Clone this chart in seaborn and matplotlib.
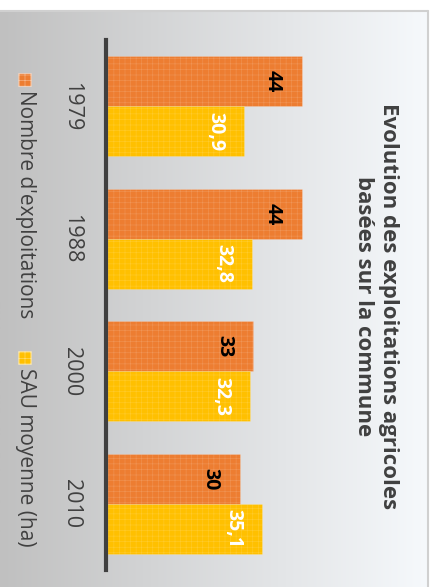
import numpy as np
import pandas as pd
import matplotlib
matplotlib.use("Agg")
import matplotlib.pyplot as plt
from matplotlib.patches import Rectangle
import seaborn as sns

# Data
annees = ["1979", "1988", "2000", "2010"]
nb_exploitations = [44, 44, 33, 30]
sau_moyenne = [30.9, 32.8, 32.3, 35.1]
series = ["Nombre d'exploitations", "SAU moyenne (ha)"]
titre = "Evolution des exploitations agricoles\nbasées sur la commune"

couleurs = {series[0]: "#ED7D31", series[1]: "#FFC000"}
couleurs_texte = {series[0]: "black", series[1]: "white"}

df = pd.DataFrame({
    "annee": annees * 2,
    "valeur": nb_exploitations + sau_moyenne,
    "serie": [series[0]] * len(annees) + [series[1]] * len(annees),
})

sns.set_theme(style="white")
plt.rcParams["font.family"] = ["Open Sans", "DejaVu Sans"]
plt.rcParams["hatch.linewidth"] = 0.4

W, H = 436, 587
fig = plt.figure(figsize=(W / 100, H / 100), dpi=100)
fig.patch.set_facecolor("white")

def fx(px):
    return px / W

def fy(py):
    return 1 - py / H

# Panel background: horizontal grey-to-white gradient
bg = fig.add_axes([0, 0, fx(428), fy(11)], zorder=0)
grad = np.linspace(0, 1, 256)
c0 = np.array([0xC0, 0xC0, 0xC0]) / 255
c1 = np.array([0xF6, 0xF9, 0xFC]) / 255
img = (c0[None, :] * (1 - grad[:, None]) + c1[None, :] * grad[:, None])[None, :, :]
bg.imshow(img, aspect="auto", extent=[0, 1, 0, 1])
bg.set_axis_off()
# Panel border
fig.add_artist(plt.Line2D([0, fx(428)], [fy(11), fy(11)], color="#d0d0d0", lw=1.5,
                          transform=fig.transFigure))
fig.add_artist(plt.Line2D([fx(428), fx(428)], [fy(11), 0], color="#d0d0d0", lw=1.5,
                          transform=fig.transFigure))

# Bar axes: bars grow to the right, categories run downward
ax = fig.add_axes([fx(106), fy(570), fx(428) - fx(106), fy(40) - fy(570)], zorder=1)
ax.patch.set_alpha(0)
sns.barplot(data=df, x="valeur", y="annee", hue="serie", palette=couleurs,
            orient="h", width=0.755, gap=0, ax=ax, legend=False,
            linewidth=0.6, saturation=1)

# Fine woven texture on the bars
for bar in ax.patches:
    bar.set_hatch("+++")
    bar.set_edgecolor((1, 1, 1, 0.18))

ax.set_xlim(0, (428 - 106) / 4.45)
ax.set_ylim(3.5, -0.5)
ax.set_xlabel("")
ax.set_ylabel("")
ax.set_xticks([])
for s in ["top", "right", "bottom"]:
    ax.spines[s].set_visible(False)
ax.spines["left"].set_color("#404040")
ax.spines["left"].set_linewidth(3)
ax.tick_params(axis="y", length=0, pad=17, labelsize=15.5, labelcolor="#404040")
for lab in ax.get_yticklabels():
    lab.set_rotation(-90)
    lab.set_va("center")

# Value labels inside the bar ends
for cont, serie in zip(ax.containers, series):
    vals = df.loc[df["serie"] == serie, "valeur"].tolist()
    for rect, v in zip(cont.patches, vals):
        txt = f"{v:g}".replace(".", ",")
        ax.text(v - 4.2, rect.get_y() + rect.get_height() / 2,
                txt, rotation=-90, ha="right", va="center",
                fontsize=14, fontweight="bold", color=couleurs_texte[serie])

# Title
fig.text(fx(376), fy(306), titre, rotation=-90, ha="center", va="center",
         fontsize=16, fontweight="bold", color="#404040", linespacing=1.25,
         multialignment="center")

# Legend
leg = [(series[0], 73), (series[1], 351)]
for serie, y0 in leg:
    fig.add_artist(Rectangle((fx(18), fy(y0 + 13)), fx(13), fy(0) - fy(13),
                             transform=fig.transFigure, facecolor=couleurs[serie],
                             edgecolor=(1, 1, 1, 0.5), lw=0.6, hatch="+++", zorder=3))
    fig.text(fx(25), fy(y0 + 17), serie, rotation=-90, ha="center", va="top",
             fontsize=15, color="#404040")

fig.savefig("out.png", dpi=100)
